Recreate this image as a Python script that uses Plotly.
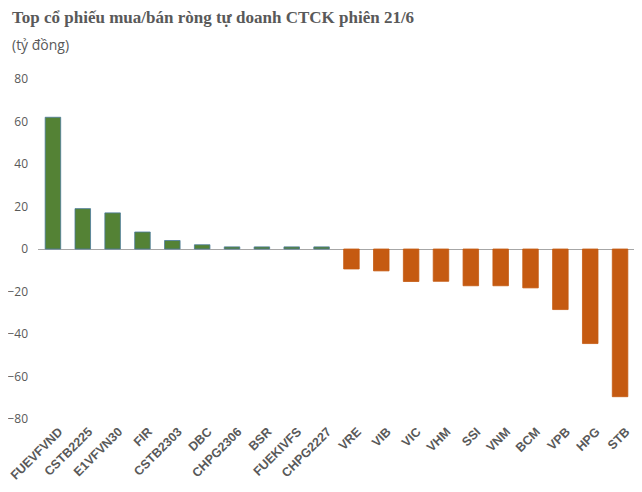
import plotly.graph_objects as go

categories = ["FUEVFVND", "CSTB2225", "E1VFVN30", "FIR", "CSTB2303", "DBC", "CHPG2306",
              "BSR", "FUEKIVFS", "CHPG2227", "VRE", "VIB", "VIC", "VHM", "SSI", "VNM",
              "BCM", "VPB", "HPG", "STB"]
values = [62, 19, 17, 8, 4, 2, 1, 1, 1, 1, -9.4, -10.3, -15.3, -15.2, -17.3, -17.3,
          -18.3, -28.5, -44.5, -69.5]
y_ticks = [-80, -60, -40, -20, 0, 20, 40, 60, 80]

GREEN = "#548235"
ORANGE = "#C55A11"
colors = [GREEN if v > 0 else ORANGE for v in values]
line_colors = ["#4A7A9C" if v > 0 else ORANGE for v in values]

fig = go.Figure(go.Bar(
    x=categories, y=values,
    marker=dict(color=colors, line=dict(color=line_colors, width=0.8)),
))

# page body has an 8px default margin; figure is offset by 8px
OFF = 8
W, H = 642 - OFF, 492 - OFF
L, R, T, B = 38 - OFF, 7, 79 - OFF, 73

fig.update_layout(
    width=W, height=H,
    margin=dict(l=L, r=R, t=T, b=B),
    paper_bgcolor="white", plot_bgcolor="white",
    bargap=0.48,
    showlegend=False,
    title=dict(
        text="<b>Top cổ phiếu mua/bán ròng tự doanh CTCK phiên 21/6</b>",
        x=(12 - OFF) / W, xanchor="left", xref="container",
        y=1 - (17 - OFF) / H, yanchor="middle", yref="container",
        font=dict(family="Liberation Serif", size=17, color="#595959"),
    ),
    annotations=[dict(
        text="(tỷ đồng)", xref="paper", yref="paper",
        x=(10 - 38) / (W - L - R), y=1 + (79 - 45) / (H - T - B),
        xanchor="left", yanchor="middle", showarrow=False,
        font=dict(family="Open Sans", size=14, color="#595959"),
    )],
    xaxis=dict(
        showgrid=False, showline=False, ticks="",
        tickangle=-45, automargin=False,
        tickfont=dict(family="Liberation Sans", size=12.5, color="#595959", weight="bold"),
        ticklabelstandoff=2, ticklabelshift=6,
    ),
    yaxis=dict(
        range=[-80, 80], tickvals=y_ticks, automargin=False,
        showgrid=False, showline=False, ticks="",
        zeroline=True, zerolinecolor="#A6A6A6", zerolinewidth=1,
        tickfont=dict(family="Open Sans", size=12, color="#595959"),
        ticklabelstandoff=9,
    ),
)

fig.write_html("out.html")
